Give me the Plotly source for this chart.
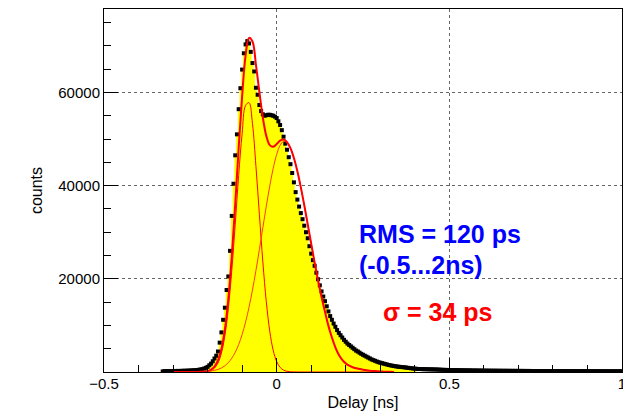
import numpy as np
import plotly.graph_objects as go

# histogram: delay distribution, 0.005 ns bins starting at -0.33 ns
bin_start = -0.33
bin_width = 0.005
counts = [
    120, 180, 150, 200, 170, 210, 190, 230, 200, 240, 220, 260, 250, 280, 270, 300, 320, 340, 360, 400, 430, 480, 540,
    620, 750, 900, 1100, 1450, 1800, 2300, 2900, 3500, 4400,
    6300, 8500, 11200, 13800, 17600, 20500, 26000, 33500, 40400, 46500,
    51000, 56400, 60900, 64900, 68400, 70300, 71000, 70500, 68700, 66300,
    64500, 61000, 59500, 57300, 56000, 55300, 55000, 55100, 55200, 55200,
    55100, 55000, 54800, 54500,
    53800, 53000, 51900, 50500, 49000, 47700, 46100, 44600, 42700, 40700,
    38600, 37000, 35500, 34100, 32800, 31400, 30000, 28700, 27000, 25400,
    24000, 22800, 21300, 19900, 18600, 17300, 16200, 15200, 14100, 13000,
    12000, 11200, 10400, 9700, 9000, 8400, 7900, 7400, 6900, 6500,
    6100, 5800, 5500, 5200, 4900, 4600, 4400, 4150, 3900, 3700,
    3500, 3300, 3100, 2900, 2700, 2550, 2400, 2250, 2100, 2000,
    1900, 1800, 1700, 1600, 1500, 1420, 1350, 1280, 1220, 1160,
    1120, 1080, 1040, 1000, 950, 900, 850, 800, 760, 720,
    680, 650, 640, 620, 610, 600, 590, 580, 570, 560,
    550, 540, 530, 510, 490, 470, 460, 450, 440, 430,
    420, 410, 400, 395, 390, 380, 370, 365, 360, 350,
    345, 340, 330, 325, 320, 315, 310, 305, 300, 295,
    290, 285, 280, 278, 275, 272, 270, 268, 265, 262,
    260, 258, 255, 252, 250, 248, 245, 243, 240, 238,
    236, 234, 232, 230, 228, 226, 224, 222, 220, 218,
    216, 214, 212, 210, 208, 206, 205, 204, 202, 200,
    198, 197, 196, 194, 193, 192, 190, 189, 188, 186,
    185, 184, 182, 181, 180, 179, 178, 176, 175, 174,
    173, 172, 171, 170, 169, 168, 167, 166, 165, 164,
    163, 162, 161, 160, 159, 158, 157, 156, 155, 154,
]
fill_max = 0.405  # yellow shaded part of the histogram

# fit curves, sampled every 0.01 ns from -0.30 ns
fit_start = -0.30
fit_step = 0.01
fit_narrow = [
    0, 0, 0, 0, 0, 0, 1, 3, 12, 39,
    119, 330, 836, 1927, 4054, 7781, 13620, 21760, 31720, 42160,
    51120, 57200, 57800, 53300, 44140, 33820, 23640, 15080, 8770, 4650,
    2250, 995, 400, 147, 49, 15, 4, 1, 0, 0,
    0, 0, 0, 0, 0, 0, 0, 0, 0, 0,
    0, 0, 0, 0, 0, 0, 0, 0, 0, 0,
    0, 0, 0, 0, 0,
]
fit_wide = [
    0, 0, 1, 1, 3, 6, 11, 21, 39, 70,
    121, 205, 340, 550, 868, 1338, 2011, 2949, 4224, 5900,
    8044, 10710, 13900, 17620, 21790, 26290, 30960, 35590, 39910, 43690,
    46660, 48640, 49480, 49200, 47980, 45900, 43070, 39630, 35780, 31690,
    27530, 23450, 19600, 16070, 12920, 9900, 7400, 5300, 3700, 2600,
    1850, 1350, 1020, 800, 640, 500, 380, 290, 220, 160,
    110, 75, 50, 30, 20,
]
fit_total = [
    0, 0, 1, 1, 3, 6, 12, 24, 51, 109,
    240, 535, 1176, 2477, 4922, 9119, 15631, 24709, 35944, 48060,
    59164, 67910, 71700, 70920, 65930, 60110, 54600, 50670, 48680, 48340,
    48910, 49635, 49880, 49347, 48029, 45915, 43074, 39631, 35780, 31690,
    27530, 23450, 19600, 16070, 12920, 9900, 7400, 5300, 3700, 2600,
    1850, 1350, 1020, 800, 640, 500, 380, 290, 220, 160,
    110, 75, 50, 30, 20,
]

x_ticks = [-0.5, 0, 0.5, 1]
x_ticktext = ['\u22120.5', '0', '0.5', '1']
y_ticks = [20000, 40000, 60000]

x_hist = bin_start + bin_width * np.arange(len(counts))
x_fit = fit_start + fit_step * np.arange(len(fit_total))
shaded = x_hist <= fill_max

FONT = "Liberation Sans, Arial, Helvetica, sans-serif"

fig = go.Figure()
fig.add_trace(go.Scatter(
    x=x_hist[shaded], y=np.array(counts)[shaded], mode='lines',
    line=dict(width=0, shape='hvh', color='#ffff00'),
    fill='tozeroy', fillcolor='#ffff00', hoverinfo='skip'
))
fig.add_trace(go.Scatter(
    x=x_hist, y=counts, mode='markers',
    marker=dict(symbol='square', size=4, color='black', line=dict(width=0))
))
fig.add_trace(go.Scatter(
    x=x_fit, y=fit_narrow, mode='lines',
    line=dict(color='#ff0000', width=1, shape='spline')
))
fig.add_trace(go.Scatter(
    x=x_fit, y=fit_wide, mode='lines',
    line=dict(color='#ff3a14', width=1, shape='spline')
))
fig.add_trace(go.Scatter(
    x=x_fit, y=fit_total, mode='lines',
    line=dict(color='#ff0000', width=2, shape='spline')
))

fig.add_annotation(x=0.234, y=29700, xref='x', yref='y', text='<b>RMS = 120 ps</b>',
                   showarrow=False, xanchor='left', yanchor='middle',
                   font=dict(family=FONT, size=25, color='#0000ff'))
fig.add_annotation(x=0.234, y=23000, xref='x', yref='y', text='<b>(-0.5...2ns)</b>',
                   showarrow=False, xanchor='left', yanchor='middle',
                   font=dict(family=FONT, size=25, color='#0000ff'))
fig.add_annotation(x=0.303, y=12900, xref='x', yref='y', text='<b>σ = 34 ps</b>',
                   showarrow=False, xanchor='left', yanchor='middle',
                   font=dict(family=FONT, size=25, color='#ff0000'))

# the page body adds an 8px offset, so the figure is 8px smaller than the window
fig.update_layout(
    width=623, height=405,
    margin=dict(l=96, r=9, t=1, b=41),
    paper_bgcolor='white', plot_bgcolor='white',
    showlegend=False,
    font=dict(family=FONT, size=15, color='black'),
)
fig.update_xaxes(
    range=[-0.5, 1.0001], tickmode='array', tickvals=x_ticks, ticktext=x_ticktext,
    ticks='inside', ticklen=14, tickcolor='black', ticklabelstandoff=-2,
    minor=dict(ticks='inside', ticklen=7, tickmode='linear', dtick=0.1, tick0=-0.5,
               tickcolor='black', showgrid=False),
    showline=True, linecolor='black', linewidth=1, mirror=True,
    showgrid=True, gridcolor='#666666', griddash='dot', gridwidth=1,
    zeroline=False, automargin=False,
    title=dict(text='Delay [ns]', font=dict(size=16), standoff=5),
)
fig.update_yaxes(
    range=[0, 77900], tickmode='array', tickvals=y_ticks, tickformat='d',
    ticks='inside', ticklen=14, tickcolor='black',
    minor=dict(ticks='inside', ticklen=7, tickmode='linear', tick0=0, dtick=5000,
               tickcolor='black', showgrid=False),
    showline=True, linecolor='black', linewidth=1, mirror=True,
    showgrid=True, gridcolor='#666666', griddash='dot', gridwidth=1,
    zeroline=False, automargin=False,
    title=dict(text='counts', font=dict(size=16), standoff=11),
)

fig.write_html("out.html")
